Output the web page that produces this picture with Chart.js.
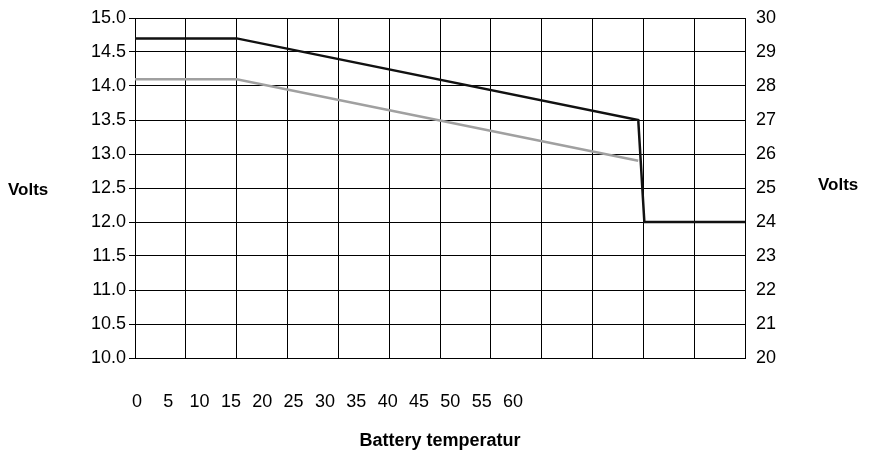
<!DOCTYPE html>
<html><head><script src="https://cdn.jsdelivr.net/npm/chart.js@4"></script>
<style>body{margin:0;background:#fff}#w{width:873px;height:456px}</style></head>
<body><div id="w"><canvas id="c"></canvas></div>
<script>
const tempLabels=[0,5,10,15,20,25,30,35,40,45,50,55,60];
const blackX=[0,2,9.9,10.02,12];
const blackY=[14.7,14.7,13.5,12.0,12.0];
const greyX=[0,2,9.9];
const greyY=[14.1,14.1,12.9];
const F='"Liberation Sans", Arial, sans-serif';
const pts=(xs,ys)=>xs.map((x,i)=>({x,y:ys[i]}));
const textPlugin={id:'t',afterDraw(ch){const c=ch.ctx;c.save();c.font='bold 17px '+F;c.fillStyle='#000';c.textBaseline='middle';c.textAlign='left';c.fillText('Volts',8,190);c.fillText('Volts',818,185);c.restore();}};
new Chart(document.getElementById('c'),{type:'line',
data:{datasets:[
{data:pts(blackX,blackY),borderColor:'#111',borderWidth:2.5,pointRadius:0,xAxisID:'x',yAxisID:'y'},
{data:pts(greyX,greyY),borderColor:'#a0a0a0',borderWidth:2.5,pointRadius:0,xAxisID:'x',yAxisID:'y'}]},
options:{animation:false,responsive:true,maintainAspectRatio:false,
layout:{padding:{top:18,left:0,right:0,bottom:0}},
plugins:{legend:{display:false},tooltip:{enabled:false}},
scales:{
x:{type:'linear',min:0,max:12,position:'bottom',afterFit(s){s.height=0},grid:{color:'#000',lineWidth:1,drawTicks:false},border:{color:'#000'},ticks:{display:false,stepSize:1}},
x2:{type:'linear',min:-0.3,max:97,position:'bottom',grid:{display:false},border:{display:false},afterBuildTicks(s){s.ticks=tempLabels.map(v=>({value:v}))},afterFit(s){s.height=98},
 ticks:{autoSkip:false,maxRotation:0,color:'#000',font:{family:F,size:18},padding:25},
 title:{display:true,text:'Battery temperatur',color:'#000',font:{family:F,size:18,weight:'bold'},padding:{top:14}}},
y:{min:10,max:15,position:'left',afterFit(s){s.width=135},grid:{color:'#000',drawTicks:true,tickLength:6},border:{color:'#000'},ticks:{stepSize:0.5,color:'#000',font:{family:F,size:18},callback:v=>v.toFixed(1)}},
y2:{min:20,max:30,position:'right',afterFit(s){s.width=128},grid:{display:false},border:{color:'#000'},ticks:{stepSize:1,color:'#000',font:{family:F,size:18}}}
}},plugins:[textPlugin]});
</script></body></html>
